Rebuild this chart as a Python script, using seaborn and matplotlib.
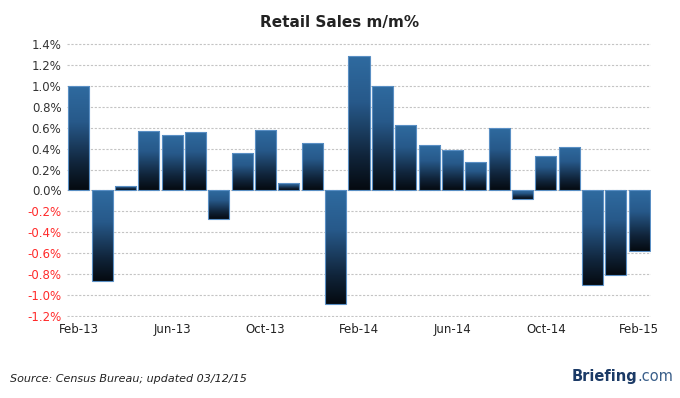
import numpy as np
import pandas as pd
import seaborn as sns
import matplotlib.pyplot as plt
from matplotlib.colors import LinearSegmentedColormap

# Monthly retail sales change, Feb-13 .. Feb-15
months = pd.date_range("2013-02-01", "2015-02-01", freq="MS").strftime("%b-%y").tolist()
values = [1.00, -0.87, 0.04, 0.57, 0.53, 0.56, -0.27, 0.36, 0.58, 0.07, 0.45, -1.09,
          1.29, 1.00, 0.63, 0.43, 0.39, 0.27, 0.60, -0.08, 0.33, 0.42, -0.90, -0.81, -0.58]
yticks = [1.4, 1.2, 1.0, 0.8, 0.6, 0.4, 0.2, 0.0, -0.2, -0.4, -0.6, -0.8, -1.0, -1.2]

df = pd.DataFrame({"month": months, "change": values})

sns.set_style("white")
plt.rcParams['font.family'] = ['DejaVu Sans']

fig = plt.figure(figsize=(6.8, 3.98), dpi=100)
ax = fig.add_axes([67 / 680, 1 - 317 / 398, 584 / 680, 274 / 398])

sns.barplot(data=df, x="month", y="change", color="#2d679a", width=0.9,
            edgecolor="#5a8fc4", linewidth=0.8, ax=ax, zorder=3)

# vertical gradient inside each bar: blue at top, near black at bottom
cmap = LinearSegmentedColormap.from_list(
    "bar", [(0.0, "#2f6ba0"), (0.35, "#27598a"), (0.75, "#10243a"), (1.0, "#050a10")])
grad = np.linspace(0, 1, 256).reshape(-1, 1)
for p in ax.patches:
    x0, y0 = p.get_x(), p.get_y()
    w, h = p.get_width(), p.get_height()
    lo, hi = min(y0, y0 + h), max(y0, y0 + h)
    im = ax.imshow(grad, cmap=cmap, aspect="auto", extent=[x0, x0 + w, lo, hi],
                   origin="upper", zorder=2.5, interpolation="bilinear")
    im.set_clip_path(p)
    p.set_facecolor("none")
ax.set_xlim(-0.5, len(months) - 0.5)
ax.set_ylim(-1.21, 1.41)

for t in yticks:
    ax.axhline(t, color="#c4c4c4", lw=0.8, ls=(0, (2, 1.5)), zorder=1)

ax.set_yticks(yticks)
ax.set_yticklabels([f"{t:.1f}%" for t in yticks], fontsize=8.5)
for lab, t in zip(ax.get_yticklabels(), yticks):
    lab.set_color("#ff2a2a" if t < 0 else "#333333")

xt = list(range(0, len(months), 4))
ax.set_xticks(xt)
ax.set_xticklabels([months[i] for i in xt], fontsize=8.5, color="#222222")
ax.tick_params(axis="both", length=0, pad=4)
ax.set_xlabel("")
ax.set_ylabel("")
sns.despine(ax=ax, left=True, bottom=True)

fig.text(0.5, 1 - 22 / 398, "Retail Sales m/m%", ha="center", va="center",
         fontsize=11, fontweight="bold", color="#222222")
fig.text(10 / 680, 1 - 379 / 398, "Source: Census Bureau; updated 03/12/15",
         ha="left", va="center", fontsize=8, style="italic", color="#222222")
dotcom = fig.text(673 / 680, 1 - 381 / 398, ".com", ha="right", va="baseline",
                  fontsize=10.5, color="#3a5f8a")
ax.annotate("Briefing", xy=(0, 0), xycoords=dotcom, va="bottom", ha="right",
            fontsize=10.5, fontweight="bold", color="#1b3a66", annotation_clip=False)

fig.savefig("out.png", dpi=100)
